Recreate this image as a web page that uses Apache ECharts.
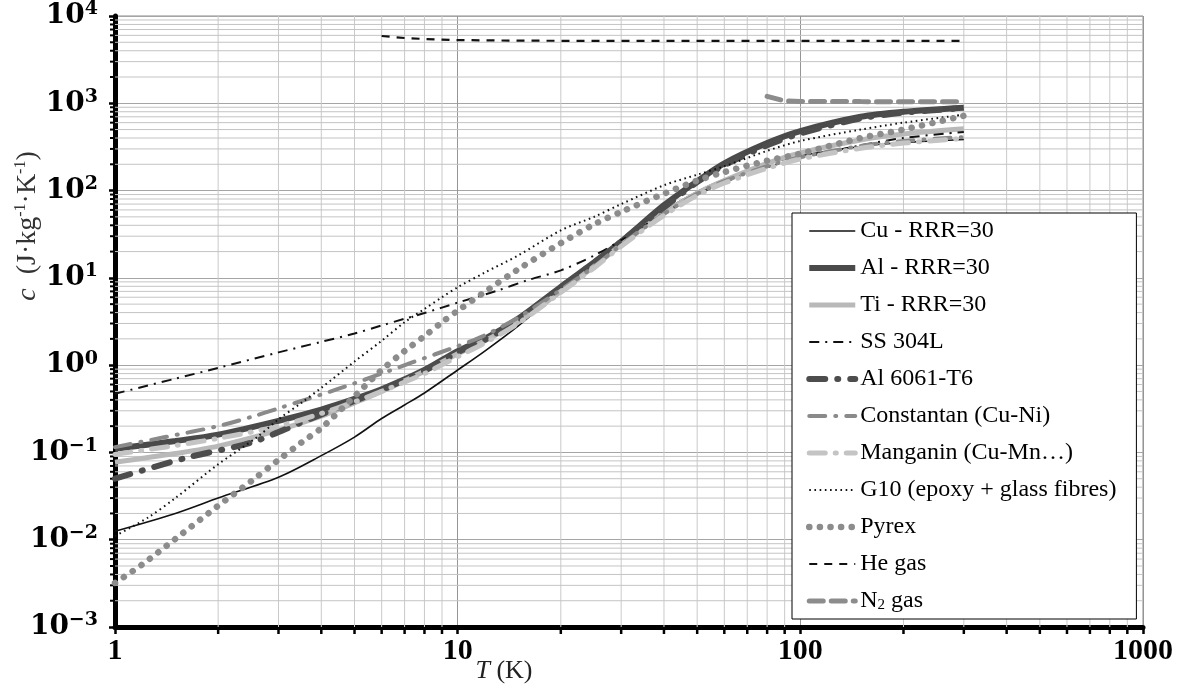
<!DOCTYPE html>
<html>
<head>
<meta charset="utf-8">
<script src="https://cdn.jsdelivr.net/npm/echarts@6/dist/echarts.min.js"></script>
<style>
  html, body { margin: 0; padding: 0; background: #fff; }
  #chart { width: 1192px; height: 693px; }
</style>
</head>
<body>
<div id="chart"></div>
<script>
// Specific heat c (J/kg/K) versus temperature T (K), pairs of [T, c]
const cuRRR30 = [[1,0.0125],[1.5,0.02],[2,0.03],[3,0.052],[4,0.092],[5,0.15],[6,0.245],[7,0.35],[8,0.48],[10,0.88],[12,1.45],[15,2.8],[20,7.2],[25,14],[30,25],[40,58],[50,97],[60,135],[80,200],[100,250],[150,320],[200,355],[300,385]];
const alRRR30 = [[1,0.11],[1.5,0.135],[2,0.16],[3,0.23],[4,0.31],[5,0.41],[6,0.53],[8,0.88],[10,1.45],[12,2.0],[15,3.4],[20,7.9],[25,15],[30,26],[40,68],[50,128],[60,205],[80,350],[100,480],[150,700],[200,800],[300,890]];
const tiRRR30 = [[1,0.077],[1.5,0.097],[2,0.118],[3,0.18],[4,0.26],[5,0.37],[6,0.5],[8,0.85],[10,1.35],[12,1.9],[15,3.1],[20,7.0],[25,13.5],[30,24],[40,55],[50,93],[60,130],[80,205],[100,270],[150,380],[200,445],[300,510]];
const ss304L = [[1,0.47],[1.5,0.7],[2,0.93],[3,1.4],[4,1.85],[5,2.3],[6,2.85],[7,3.4],[8,3.95],[10,5.2],[13,7.1],[16,9.4],[20,12.2],[25,18],[30,27],[40,55],[50,90],[60,125],[80,185],[100,235],[150,330],[200,400],[300,470]];
const al6061T6 = [[1,0.05],[1.6,0.086],[2.5,0.13],[3.5,0.22],[4.5,0.33],[6,0.52],[8,0.86],[10,1.4],[12,1.95],[15,3.3],[20,7.8],[25,15],[30,26],[40,64],[50,125],[60,195],[80,330],[100,450],[150,670],[200,780],[300,880]];
const constantan = [[1,0.115],[1.4,0.15],[2,0.2],[2.5,0.255],[3,0.32],[4,0.46],[5,0.62],[6,0.8],[7.4,1.08],[10,1.65],[12,2.2],[15,3.5],[20,7.3],[25,13.5],[30,24],[40,54],[50,92],[60,128],[80,190],[100,240],[150,325],[200,370],[300,410]];
const manganin = [[1,0.095],[1.5,0.12],[2,0.145],[3,0.2],[4,0.28],[5,0.38],[6,0.5],[8,0.8],[10,1.25],[12,1.8],[15,3.0],[20,6.8],[25,13],[30,23],[40,52],[50,88],[60,122],[80,180],[100,230],[150,305],[200,350],[300,395]];
const g10 = [[1,0.011],[1.25,0.018],[1.5,0.03],[2,0.073],[2.6,0.15],[3,0.24],[3.5,0.37],[4,0.55],[5,1.1],[6,1.9],[7,3.1],[8,4.4],[9,6.0],[10,7.8],[12,11.5],[15,18],[20,35],[25,50],[30,70],[40,115],[50,152],[60,190],[80,285],[100,370],[150,500],[200,600],[300,740]];
const pyrex = [[1,0.0032],[1.2,0.0052],[1.5,0.0102],[2,0.0245],[2.5,0.047],[3,0.082],[3.5,0.13],[4,0.19],[5,0.44],[6,0.88],[7,1.45],[8,2.15],[9,3.1],[10,4.2],[12,6.9],[15,12.5],[20,25],[25,41],[30,57],[40,92],[50,130],[60,163],[80,220],[100,265],[150,400],[200,500],[300,720]];
const heGas = [[6,5900],[7,5600],[8,5450],[10,5300],[15,5220],[20,5200],[300,5200]];
const n2Gas = [[80,1200],[90,1065],[100,1050],[150,1045],[300,1040]];

const seriesNames = ['Cu - RRR=30','Al - RRR=30','Ti - RRR=30','SS 304L','Al 6061-T6','Constantan (Cu-Ni)','Manganin (Cu-Mn\u2026)','G10 (epoxy + glass fibres)','Pyrex','He gas','N2 gas'];
const seriesData = [cuRRR30, alRRR30, tiRRR30, ss304L, al6061T6, constantan, manganin, g10, pyrex, heGas, n2Gas];
const xTickLabels = ['1','10','100','1000'];

// Axis range
const T_MIN = 1, T_MAX = 1000, C_MIN = 1e-3, C_MAX = 1e4;

// Line appearance per series
const lineStyles = [
  { color: '#111', width: 1.6, type: 'solid' },
  { color: '#4a4a4a', width: 6, type: 'solid' },
  { color: '#b9b9b9', width: 5, type: 'solid' },
  { color: '#111', width: 2, type: [10, 6, 2, 6] },
  { color: '#4d4d4d', width: 6, type: [16, 12, 1, 12], cap: 'round' },
  { color: '#8a8a8a', width: 4, type: [16, 10, 1, 10], cap: 'round' },
  { color: '#c4c4c4', width: 5, type: [16, 10, 1, 10], cap: 'round' },
  { color: '#111', width: 2, type: [1.6, 3.6] },
  { color: '#8c8c8c', width: 6.5, type: [0.1, 10.5], cap: 'round' },
  { color: '#111', width: 2.2, type: [8, 7] },
  { color: '#8c8c8c', width: 5, type: [14, 8], cap: 'round' }
];
const smoothed = [true, true, true, true, true, true, true, true, true, false, false];

// Minor positions (2..9 within each decade)
function minorValues(lo, hi) {
  const out = [];
  for (let d = lo; d < hi; d *= 10) {
    for (let k = 2; k <= 9; k++) out.push(+(d * k).toPrecision(3));
  }
  return out;
}
const xMinor = minorValues(T_MIN, T_MAX);
const yMinor = minorValues(C_MIN, C_MAX);

const serif = 'Liberation Serif';

const chart = echarts.init(document.getElementById('chart'));

const lineSeries = seriesNames.map((name, i) => ({
  name: name,
  type: 'line',
  data: seriesData[i],
  symbol: 'none',
  smooth: smoothed[i] ? 0.3 : false,
  lineStyle: Object.assign({}, lineStyles[i]),
  itemStyle: { color: lineStyles[i].color },
  z: 3,
  silent: true
}));

// Minor vertical grid lines plus their outward ticks on the T axis
const vGrid = {
  type: 'custom', silent: true, clip: false, z: 1,
  data: xMinor.map(v => [v, C_MIN]),
  renderItem: function (params, api) {
    const cs = params.coordSys;
    const x = api.coord([api.value(0), C_MIN])[0];
    const yb = cs.y + cs.height;
    return { type: 'group', children: [
      { type: 'line', shape: { x1: x, y1: cs.y, x2: x, y2: yb }, style: { stroke: '#cacaca', lineWidth: 1 } },
      { type: 'line', shape: { x1: x, y1: yb, x2: x, y2: yb + 7 }, style: { stroke: '#000', lineWidth: 2.5 } }
    ]};
  }
};

// Minor horizontal grid lines plus their outward ticks on the c axis
const hGrid = {
  type: 'custom', silent: true, clip: false, z: 1,
  data: yMinor.map(v => [T_MIN, v]),
  renderItem: function (params, api) {
    const cs = params.coordSys;
    const y = api.coord([T_MIN, api.value(1)])[1];
    return { type: 'group', children: [
      { type: 'line', shape: { x1: cs.x, y1: y, x2: cs.x + cs.width, y2: y }, style: { stroke: '#c4c4c4', lineWidth: 1 } },
      { type: 'line', shape: { x1: cs.x - 5, y1: y, x2: cs.x, y2: y }, style: { stroke: '#000', lineWidth: 2 } }
    ]};
  }
};

const option = {
  animation: false,
  backgroundColor: '#fff',
  grid: {
    left: 115, right: 49, top: 15, bottom: 66,
    show: true, borderColor: '#8a8a8a', borderWidth: 1, backgroundColor: 'transparent'
  },
  xAxis: {
    type: 'log', logBase: 10, min: T_MIN, max: T_MAX, splitNumber: 10,
    axisLine: { show: true, onZero: false, lineStyle: { color: '#000', width: 5 } },
    axisTick: { show: true, length: 7, lineStyle: { color: '#000', width: 2.5 } },
    axisLabel: {
      margin: 9, color: '#000', fontFamily: serif, fontWeight: 'bold', fontSize: 30,
      formatter: function (v) { return xTickLabels[Math.round(Math.log10(v))]; }
    },
    splitLine: { show: true, lineStyle: { color: '#959595', width: 1 } }
  },
  yAxis: {
    type: 'log', logBase: 10, min: C_MIN, max: C_MAX, splitNumber: 10,
    axisLine: { show: true, onZero: false, lineStyle: { color: '#000', width: 5 } },
    axisTick: { show: true, length: 6, lineStyle: { color: '#000', width: 2.5 } },
    axisLabel: {
      margin: 17, color: '#000',
      formatter: function (v) {
        const e = Math.round(Math.log10(v));
        return '{b|10}{s|' + (e < 0 ? '\u2212' + (-e) : e) + '}';
      },
      rich: {
        b: { fontFamily: 'DejaVu Serif', fontWeight: 'bold', fontSize: 28, color: '#000', lineHeight: 32 },
        s: { fontFamily: 'DejaVu Serif', fontWeight: 'bold', fontSize: 19, color: '#000', verticalAlign: 'top', lineHeight: 19 }
      }
    },
    splitLine: { show: true, lineStyle: { color: '#a5a5a5', width: 1 } }
  },
  legend: {
    orient: 'vertical', left: 792, top: 213,
    backgroundColor: '#fff', borderColor: '#000', borderWidth: 1, borderRadius: 0,
    padding: [6, 20, 6, 14], itemGap: 13, itemWidth: 46, itemHeight: 14,
    selectedMode: false,
    data: seriesNames,
    itemStyle: { opacity: 0 },
    lineStyle: { width: 'inherit', type: 'inherit', cap: 'inherit' },
    formatter: function (name) {
      return name === 'N2 gas' ? '{a|N}{u|2}{a| gas}' : name;
    },
    textStyle: {
      fontFamily: serif, fontSize: 24, color: '#000', lineHeight: 24,
      rich: {
        a: { fontFamily: serif, fontSize: 24, color: '#000', lineHeight: 24 },
        u: { fontFamily: serif, fontSize: 15, color: '#000', verticalAlign: 'bottom', lineHeight: 15 }
      }
    }
  },
  graphic: [
    {
      type: 'text', x: 504, y: 671, z: 10,
      style: {
        text: '{i|T} (K)', align: 'center', verticalAlign: 'middle',
        font: '26px "Liberation Serif"', fill: '#222',
        rich: { i: { fontFamily: serif, fontStyle: 'italic', fontSize: 26, color: '#222' } }
      }
    },
    {
      type: 'text', x: 28, y: 226, rotation: Math.PI / 2, z: 10,
      style: {
        text: '{i|c}  {n|(J\u00b7kg}{s|-1}{n|\u00b7K}{s|-1}{n|)}', align: 'center', verticalAlign: 'middle',
        font: '28px "Liberation Serif"', fill: '#333',
        rich: {
          i: { fontFamily: serif, fontStyle: 'italic', fontSize: 28, color: '#333', lineHeight: 30 },
          n: { fontFamily: serif, fontSize: 28, color: '#333', lineHeight: 30 },
          s: { fontFamily: serif, fontSize: 16, color: '#333', verticalAlign: 'top', lineHeight: 16 }
        }
      }
    }
  ],
  series: [vGrid, hGrid].concat(lineSeries)
};

chart.setOption(option);
</script>
</body>
</html>
